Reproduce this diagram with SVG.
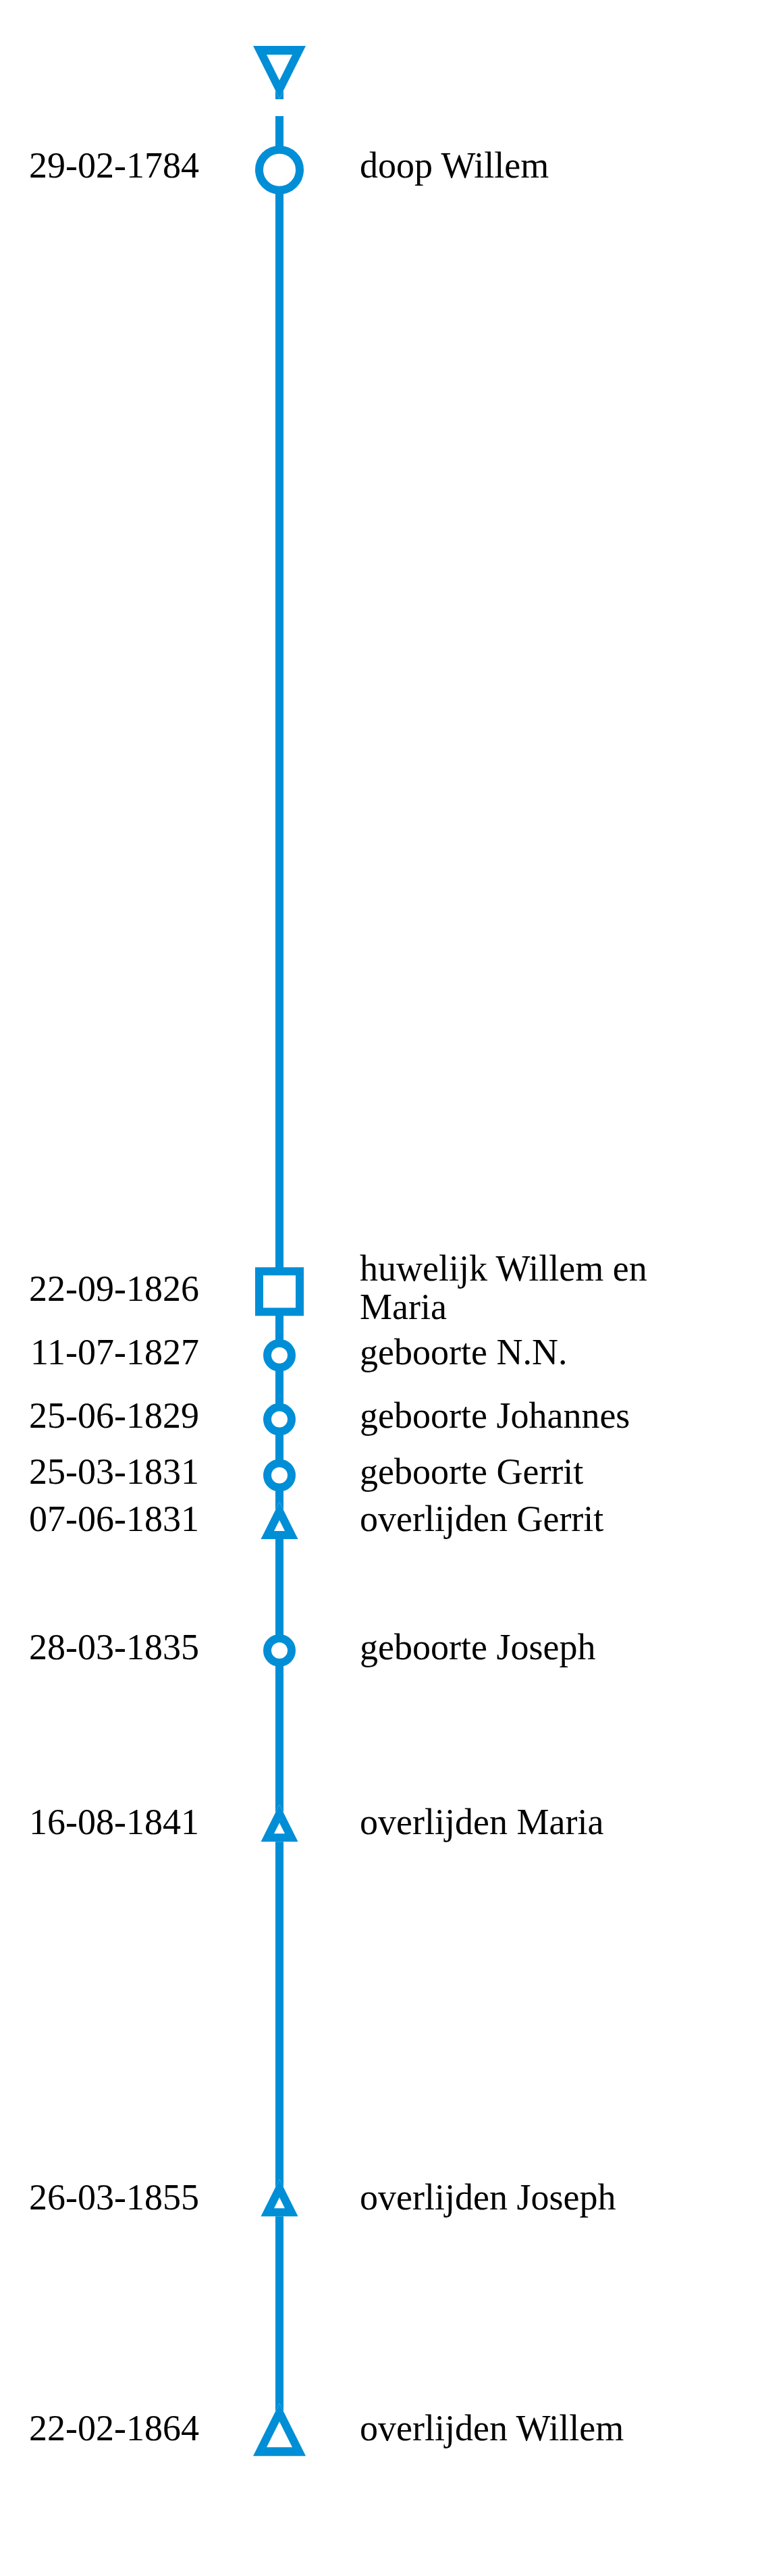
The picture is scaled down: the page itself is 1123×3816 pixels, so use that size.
<svg xmlns="http://www.w3.org/2000/svg" width="1123" height="3816" viewBox="0 0 1123 3816">
<style>
.line{stroke:#008ed6;stroke-width:12;fill:none}
.node{stroke:#008ed6;stroke-width:12;fill:#ffffff}
.tri{fill:#008ed6;fill-rule:evenodd;stroke:none}
.date{font-family:"Liberation Serif","Times New Roman",serif;font-size:54px;fill:#000;text-anchor:end}
.label{font-family:"Liberation Serif","Times New Roman",serif;font-size:54px;fill:#000}
</style>
<defs>
<path id="bigTri" d="M-39,0 L39,0 L0,-78 Z M-19,-13 L19,-13 L0,-51 Z"/>
<path id="smallTri" d="M-27.5,0 L27.5,0 L0,-55 Z M-8,-12 L8,-12 L0,-28 Z"/>
</defs>
<rect width="1123" height="3816" fill="#ffffff"/>
<g id="connectors">
<line class="line" x1="414" y1="118" x2="414" y2="147"/>
<line class="line" x1="414" y1="172" x2="414" y2="3600"/>
</g>
<g id="start">
<path d="M-39,0 L39,0 L0,-78 Z" fill="#ffffff" transform="translate(414,68) scale(1,-1)"/>
<use href="#bigTri" class="tri" transform="translate(414,68) scale(1,-1)"/>
</g>
<g id="e1784">
<circle class="node" cx="414" cy="251.7" r="30"/>
<text class="date" x="295" y="263">29-02-1784</text>
<text class="label" x="533" y="263">doop Willem</text>
</g>
<g id="e1826">
<rect class="node" x="384" y="1883.3" width="60" height="60"/>
<text class="date" x="295" y="1926.5">22-09-1826</text>
<text class="label" x="533" y="1896.7">huwelijk Willem en</text>
<text class="label" x="533" y="1954">Maria</text>
</g>
<g id="e1827">
<circle class="node" cx="414" cy="2007.7" r="18"/>
<text class="date" x="295" y="2021">11-07-1827</text>
<text class="label" x="533" y="2021">geboorte N.N.</text>
</g>
<g id="e1829">
<circle class="node" cx="414" cy="2102.6" r="18"/>
<text class="date" x="295" y="2115">25-06-1829</text>
<text class="label" x="533" y="2115">geboorte Johannes</text>
</g>
<g id="e1831a">
<circle class="node" cx="414" cy="2185.5" r="18"/>
<text class="date" x="295" y="2198">25-03-1831</text>
<text class="label" x="533" y="2198">geboorte Gerrit</text>
</g>
<g id="e1831b">
<path d="M-27.5,0 L27.5,0 L0,-55 Z" fill="#ffffff" transform="translate(414,2280)"/>
<use href="#smallTri" class="tri" transform="translate(414,2280)"/>
<text class="date" x="295" y="2268">07-06-1831</text>
<text class="label" x="533" y="2268">overlijden Gerrit</text>
</g>
<g id="e1835">
<circle class="node" cx="414" cy="2445" r="18"/>
<text class="date" x="295" y="2458">28-03-1835</text>
<text class="label" x="533" y="2458">geboorte Joseph</text>
</g>
<g id="e1841">
<path d="M-27.5,0 L27.5,0 L0,-55 Z" fill="#ffffff" transform="translate(414,2728.3)"/>
<use href="#smallTri" class="tri" transform="translate(414,2728.3)"/>
<text class="date" x="295" y="2717">16-08-1841</text>
<text class="label" x="533" y="2717">overlijden Maria</text>
</g>
<g id="e1855">
<path d="M-27.5,0 L27.5,0 L0,-55 Z" fill="#ffffff" transform="translate(414,3283.3)"/>
<use href="#smallTri" class="tri" transform="translate(414,3283.3)"/>
<text class="date" x="295" y="3273">26-03-1855</text>
<text class="label" x="533" y="3273">overlijden Joseph</text>
</g>
<g id="e1864">
<path d="M-39,0 L39,0 L0,-78 Z" fill="#ffffff" transform="translate(414,3638.3)"/>
<use href="#bigTri" class="tri" transform="translate(414,3638.3)"/>
<text class="date" x="295" y="3615">22-02-1864</text>
<text class="label" x="533" y="3615">overlijden Willem</text>
</g>
</svg>
